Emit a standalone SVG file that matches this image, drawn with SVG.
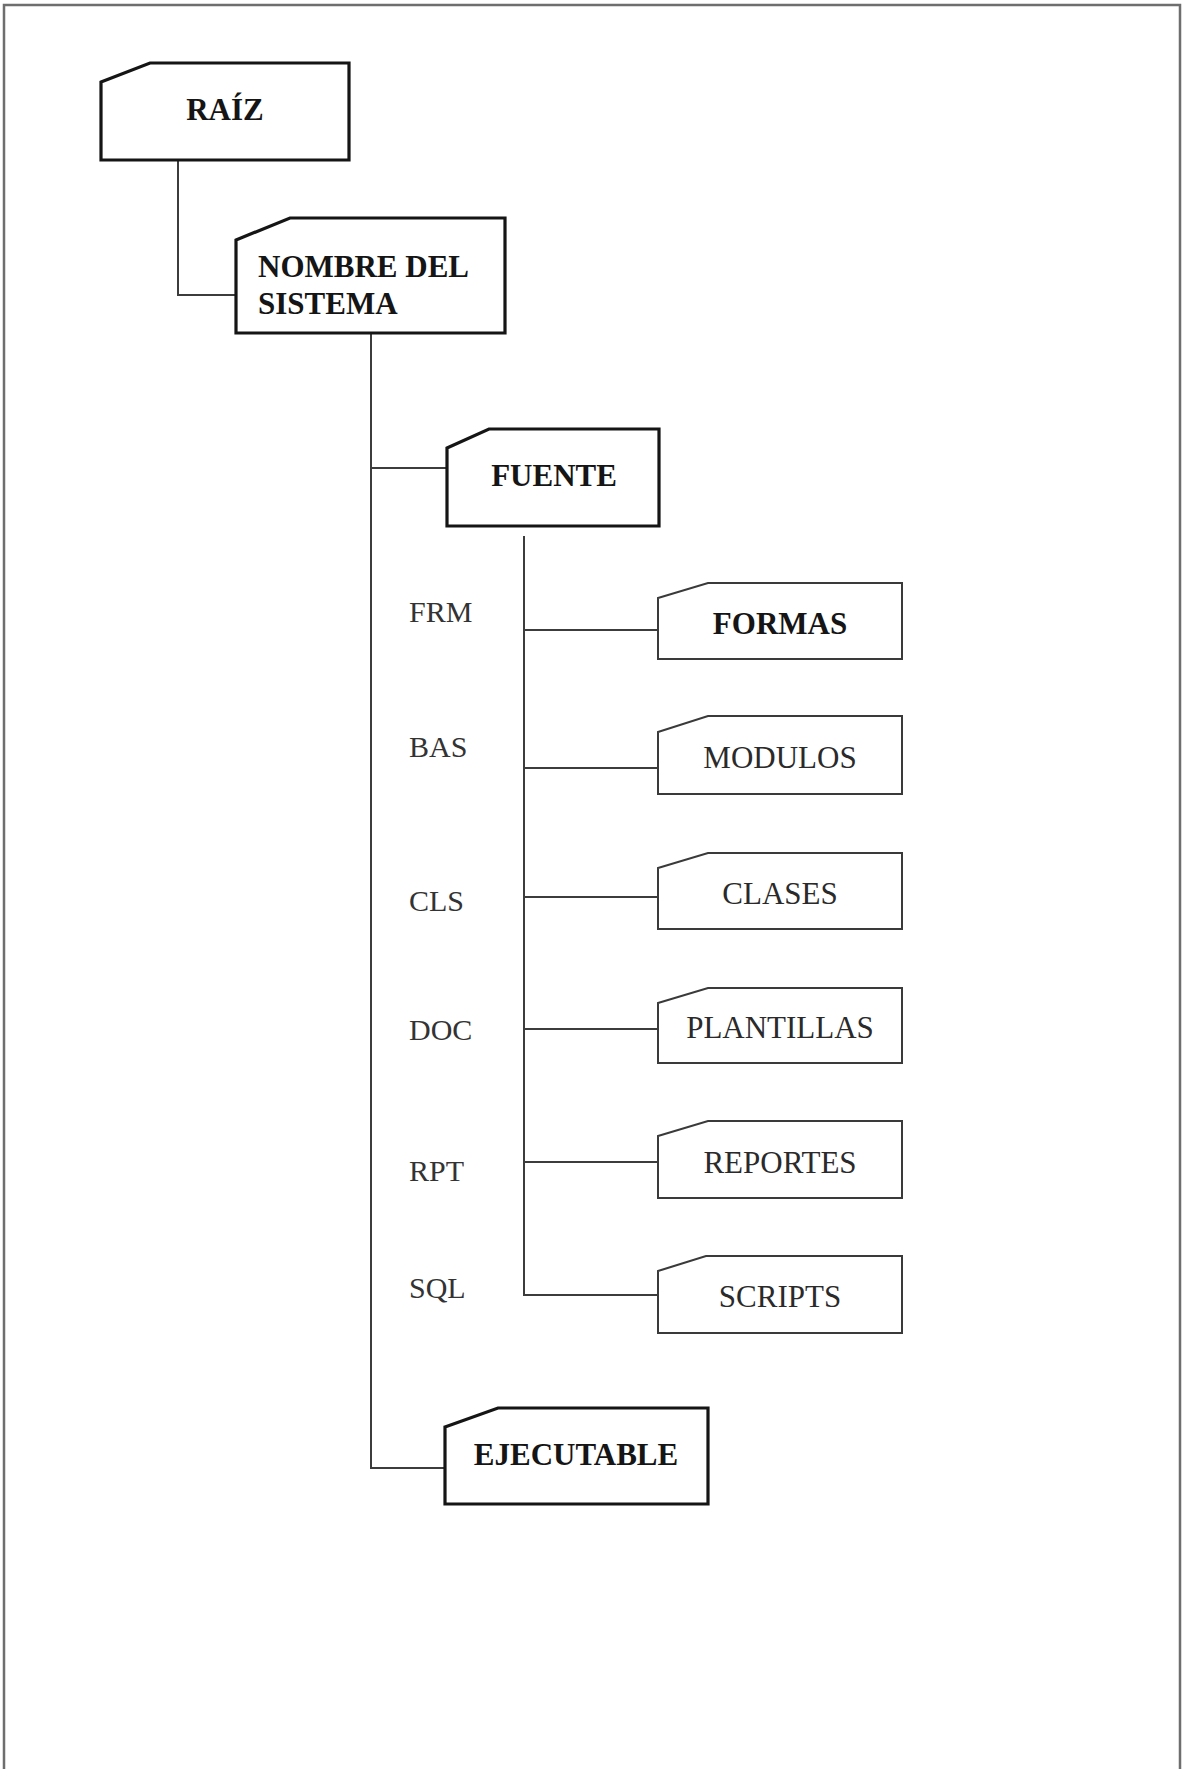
<svg xmlns="http://www.w3.org/2000/svg" width="1184" height="1769" viewBox="0 0 1184 1769">
<style>
.bg{fill:#ffffff}
.frame{fill:none;stroke:#6e6e6e;stroke-width:2.5}
.thick{fill:#ffffff;stroke:#151515;stroke-width:3.2;stroke-linejoin:miter}
.thin{fill:#ffffff;stroke:#3a3a3a;stroke-width:2}
.conn{fill:none;stroke:#3c3c3c;stroke-width:2}
.hb{font-family:"Liberation Serif","Times New Roman",serif;font-weight:bold;font-size:31px;fill:#151515}
.hr{font-family:"Liberation Serif","Times New Roman",serif;font-size:31px;fill:#2a2a2a}
.lab{font-family:"Liberation Serif","Times New Roman",serif;font-size:30px;fill:#333333}
</style>
<rect class="bg" x="0" y="0" width="1184" height="1769"/>
<path class="frame" d="M4,1769 V5 H1180 V1769"/>

<g id="connectors">
<path class="conn" d="M178,160 V295 H236"/>
<path class="conn" d="M371,333 V1468 H445"/>
<path class="conn" d="M371,468 H447"/>
<path class="conn" d="M524,536 V1295 H658"/>
<path class="conn" d="M524,630 H658"/>
<path class="conn" d="M524,768 H658"/>
<path class="conn" d="M524,897 H658"/>
<path class="conn" d="M524,1029 H658"/>
<path class="conn" d="M524,1162 H658"/>
</g>

<g id="raiz">
<path class="thick" d="M101,82 L150,63 H349 V160 H101 Z"/>
<text class="hb" x="225" y="120" text-anchor="middle">RAÍZ</text>
</g>

<g id="nombre">
<path class="thick" d="M236,240 L290,218 H505 V333 H236 Z"/>
<text class="hb" x="258" y="277">NOMBRE DEL</text>
<text class="hb" x="258" y="314">SISTEMA</text>
</g>

<g id="fuente">
<path class="thick" d="M447,448 L489,429 H659 V526 H447 Z"/>
<text class="hb" x="554" y="486" text-anchor="middle">FUENTE</text>
</g>

<g id="formas">
<path class="thin" d="M658,598 L708,583 H902 V659 H658 Z"/>
<text class="hb" x="780" y="634" text-anchor="middle">FORMAS</text>
</g>
<text class="lab" x="409" y="622">FRM</text>

<g id="modulos">
<path class="thin" d="M658,732 L708,716 H902 V794 H658 Z"/>
<text class="hr" x="780" y="768" text-anchor="middle">MODULOS</text>
</g>
<text class="lab" x="409" y="757">BAS</text>

<g id="clases">
<path class="thin" d="M658,868 L708,853 H902 V929 H658 Z"/>
<text class="hr" x="780" y="904" text-anchor="middle">CLASES</text>
</g>
<text class="lab" x="409" y="911">CLS</text>

<g id="plantillas">
<path class="thin" d="M658,1003 L708,988 H902 V1063 H658 Z"/>
<text class="hr" x="780" y="1038" text-anchor="middle">PLANTILLAS</text>
</g>
<text class="lab" x="409" y="1040">DOC</text>

<g id="reportes">
<path class="thin" d="M658,1136 L708,1121 H902 V1198 H658 Z"/>
<text class="hr" x="780" y="1173" text-anchor="middle">REPORTES</text>
</g>
<text class="lab" x="409" y="1181">RPT</text>

<g id="scripts">
<path class="thin" d="M658,1271 L706,1256 H902 V1333 H658 Z"/>
<text class="hr" x="780" y="1307" text-anchor="middle">SCRIPTS</text>
</g>
<text class="lab" x="409" y="1298">SQL</text>

<g id="ejecutable">
<path class="thick" d="M445,1427 L498,1408 H708 V1504 H445 Z"/>
<text class="hb" x="576" y="1465" text-anchor="middle">EJECUTABLE</text>
</g>
</svg>
